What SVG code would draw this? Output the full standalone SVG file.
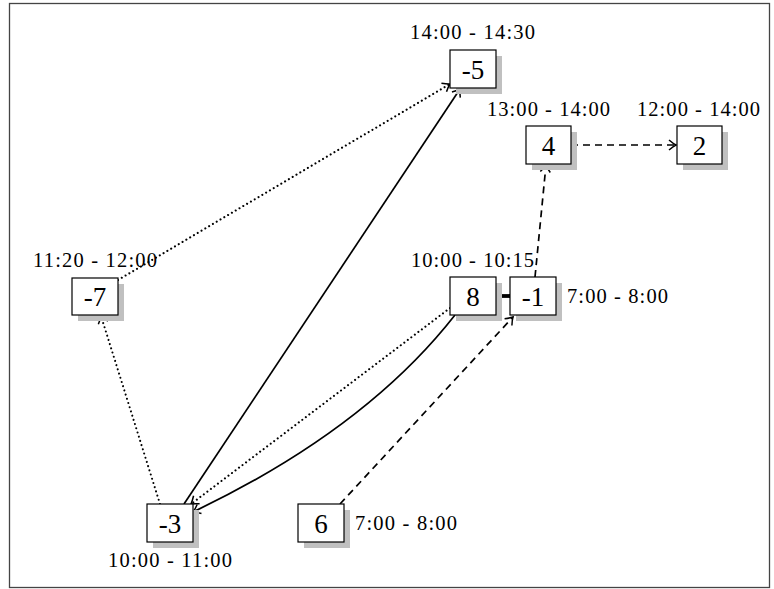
<svg xmlns="http://www.w3.org/2000/svg" width="774" height="589" viewBox="0 0 774 589">
<style>
.frame{fill:#fff;stroke:#444;stroke-width:1.3}
.shadow{fill:#c0c0c0}
.box{fill:#fff;stroke:#000;stroke-width:1.2}
.nt{font-family:"Liberation Serif","DejaVu Serif",serif;font-size:27px;text-anchor:middle;fill:#000}
.lt{font-family:"Liberation Serif","DejaVu Serif",serif;font-size:20.5px;fill:#000}
.c{fill:none;stroke:#000;stroke-width:1.7}
.dot{stroke-dasharray:0.01 4.4;stroke-linecap:round;stroke-width:2.1}
.dash{stroke-dasharray:7 5}
</style>
<defs>
<marker id="ah" markerUnits="userSpaceOnUse" markerWidth="16" markerHeight="16" viewBox="-9 -8 11 16" refX="0" refY="0" orient="auto" overflow="visible">
<path d="M -7 -5 Q -2.5 -1.2 0 0 Q -2.5 1.2 -7 5" fill="none" stroke="#000" stroke-width="1.5"/>
</marker>
</defs>
<rect class="frame" x="9.5" y="3.5" width="760" height="584"/>

<g id="connectors">
<line class="c" x1="184" y1="504" x2="460" y2="89" marker-end="url(#ah)"/>
<path class="c" d="M 455 315 Q 365 430 193 512" marker-end="url(#ah)"/>
<line class="c dot" x1="450" y1="308" x2="191" y2="504" marker-end="url(#ah)"/>
<line class="c dot" x1="160" y1="504" x2="101" y2="316" marker-end="url(#ah)"/>
<line class="c dot" x1="118" y1="280" x2="450" y2="84" marker-end="url(#ah)"/>
<line class="c dash" x1="535" y1="277" x2="546" y2="165" marker-end="url(#ah)"/>
<line class="c dash" x1="340" y1="504" x2="513" y2="317" marker-end="url(#ah)"/>
<line class="c dash" x1="571" y1="145" x2="676" y2="145" marker-end="url(#ah)"/>
<line x1="496" y1="296" x2="510" y2="296" stroke="#000" stroke-width="3.8"/>
</g>

<g id="n-5">
<rect class="shadow" x="456" y="56" width="46" height="38"/>
<rect class="box" x="450" y="50" width="46" height="38"/>
<text class="nt" x="473" y="78.5">-5</text>
<text class="lt" x="410" y="39" textLength="125" lengthAdjust="spacing">14:00 - 14:30</text>
</g>

<g id="n4">
<rect class="shadow" x="532" y="132" width="45" height="38"/>
<rect class="box" x="526" y="126" width="45" height="38"/>
<text class="nt" x="548.5" y="154.5">4</text>
<text class="lt" x="487" y="116" textLength="123" lengthAdjust="spacing">13:00 - 14:00</text>
</g>

<g id="n2">
<rect class="shadow" x="683" y="132" width="45" height="38"/>
<rect class="box" x="677" y="126" width="45" height="38"/>
<text class="nt" x="699.5" y="154.5">2</text>
<text class="lt" x="637" y="116" textLength="123" lengthAdjust="spacing">12:00 - 14:00</text>
</g>

<g id="n-7">
<rect class="shadow" x="78" y="284" width="46" height="37"/>
<rect class="box" x="72" y="278" width="46" height="37"/>
<text class="nt" x="95" y="306">-7</text>
<text class="lt" x="33" y="267" textLength="124" lengthAdjust="spacing">11:20 - 12:00</text>
</g>

<g id="n8">
<rect class="shadow" x="456" y="283" width="46" height="38"/>
<rect class="box" x="450" y="277" width="46" height="38"/>
<text class="nt" x="473" y="305.5">8</text>
<text class="lt" x="411" y="267" textLength="123" lengthAdjust="spacing">10:00 - 10:15</text>
</g>

<g id="n-1">
<rect class="shadow" x="516" y="283" width="46" height="38"/>
<rect class="box" x="510" y="277" width="46" height="38"/>
<text class="nt" x="533" y="305.5">-1</text>
<text class="lt" x="567" y="303" textLength="101" lengthAdjust="spacing">7:00 - 8:00</text>
</g>

<g id="n-3">
<rect class="shadow" x="153" y="510" width="46" height="38"/>
<rect class="box" x="147" y="504" width="46" height="38"/>
<text class="nt" x="170" y="532.5">-3</text>
<text class="lt" x="108" y="567" textLength="124" lengthAdjust="spacing">10:00 - 11:00</text>
</g>

<g id="n6">
<rect class="shadow" x="304" y="510" width="46" height="38"/>
<rect class="box" x="298" y="504" width="46" height="38"/>
<text class="nt" x="321" y="532.5">6</text>
<text class="lt" x="355" y="530" textLength="102" lengthAdjust="spacing">7:00 - 8:00</text>
</g>
</svg>
